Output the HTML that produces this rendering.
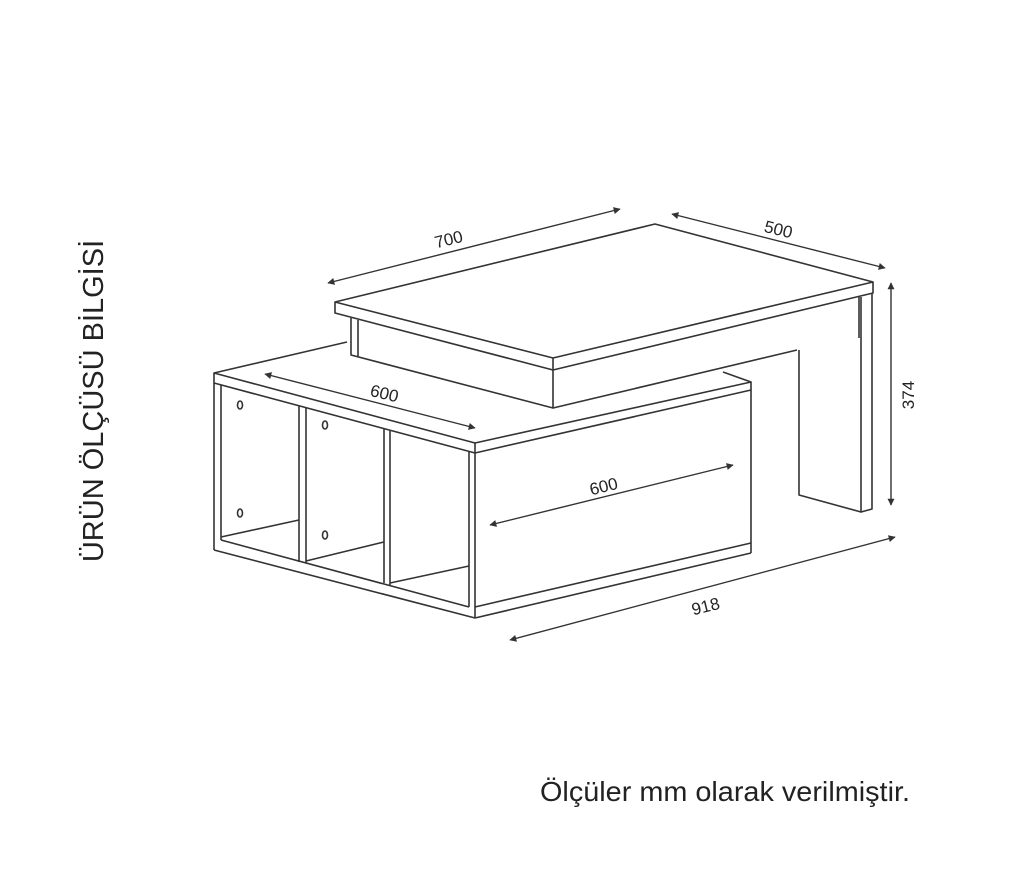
<!DOCTYPE html>
<html><head><meta charset="utf-8"><style>
html,body{margin:0;padding:0;background:#fff;}
svg{display:block;}
text{font-family:"Liberation Sans",Arial,sans-serif;fill:#222;}
</style></head><body>
<svg width="1019" height="873" viewBox="0 0 1019 873" xmlns="http://www.w3.org/2000/svg">
<defs>
<marker id="a" viewBox="0 0 10 10" refX="9" refY="5" markerWidth="10" markerHeight="7" orient="auto-start-reverse" markerUnits="userSpaceOnUse"><path d="M0,0 L10,5 L0,10 z" fill="#333"/></marker>
</defs>
<g fill="none" stroke="#333" stroke-width="1.6" stroke-linejoin="round">
<polygon points="335,302 655,224 873,282 553,358" fill="#fff"/>
<polyline points="335,302 335,313 553,370 873,293 873,282"/>
<line x1="553" y1="358" x2="553" y2="370"/>
<polyline points="351,318 351,355 553,408 553,370"/>
<line x1="358" y1="320" x2="358" y2="357"/>
<line x1="553" y1="408" x2="797" y2="350"/>
<line x1="859" y1="297" x2="859" y2="338"/>
<polyline points="799,350 799,495 861,512 861,297"/>
<polyline points="861,512 872,509 872,293"/>
<polyline points="347,342 214,373 475,443 751,382 723,372"/>
<polyline points="214,373 214,383 475,453 751,390 751,382"/>
<line x1="475" y1="443" x2="475" y2="453"/>
<line x1="475" y1="453" x2="475" y2="618"/>
<line x1="469" y1="452" x2="469" y2="607"/>
<line x1="751" y1="390" x2="751" y2="553"/>
<line x1="475" y1="607" x2="751" y2="543"/>
<line x1="475" y1="618" x2="751" y2="553"/>
<line x1="214" y1="383" x2="214" y2="550"/>
<line x1="221" y1="385" x2="221" y2="540"/>
<line x1="214" y1="550" x2="475" y2="618"/>
<line x1="221" y1="540" x2="469" y2="607"/>
<line x1="299" y1="406" x2="299" y2="562"/>
<line x1="306" y1="408" x2="306" y2="563"/>
<line x1="384" y1="429" x2="384" y2="583"/>
<line x1="390" y1="431" x2="390" y2="585"/>
<line x1="221" y1="537" x2="299" y2="520"/>
<line x1="306" y1="561" x2="384" y2="542"/>
<line x1="390" y1="583" x2="469" y2="566"/>
<ellipse cx="240" cy="405" rx="2.5" ry="4"/>
<ellipse cx="240" cy="513" rx="2.5" ry="4"/>
<ellipse cx="325" cy="425" rx="2.5" ry="4"/>
<ellipse cx="325" cy="535" rx="2.5" ry="4"/>
</g>
<g stroke="#333" stroke-width="1.4" fill="none">
<line x1="328" y1="283" x2="620" y2="209" marker-start="url(#a)" marker-end="url(#a)"/>
<line x1="672" y1="214" x2="885" y2="268" marker-start="url(#a)" marker-end="url(#a)"/>
<line x1="891" y1="283" x2="891" y2="505" marker-start="url(#a)" marker-end="url(#a)"/>
<line x1="265" y1="374" x2="475" y2="428" marker-start="url(#a)" marker-end="url(#a)"/>
<line x1="490" y1="525" x2="733" y2="465" marker-start="url(#a)" marker-end="url(#a)"/>
<line x1="510" y1="640" x2="895" y2="537" marker-start="url(#a)" marker-end="url(#a)"/>
</g>
<g font-size="17">
<text x="450" y="245" text-anchor="middle" transform="rotate(-14 450 245)">700</text>
<text x="777" y="235" text-anchor="middle" transform="rotate(14 777 235)">500</text>
<text x="914" y="395" text-anchor="middle" transform="rotate(-90 914 395)">374</text>
<text x="383" y="399" text-anchor="middle" transform="rotate(14 383 399)">600</text>
<text x="605" y="492" text-anchor="middle" transform="rotate(-14 605 492)">600</text>
<text x="707" y="612" text-anchor="middle" transform="rotate(-14 707 612)">918</text>
</g>
<text x="103" y="401" font-size="29" text-anchor="middle" transform="rotate(-90 103 401)">ÜRÜN ÖLÇÜSÜ BİLGİSİ</text>
<text x="540" y="801" font-size="28" textLength="370" lengthAdjust="spacingAndGlyphs">Ölçüler mm olarak verilmiştir.</text>
</svg>
</body></html>
